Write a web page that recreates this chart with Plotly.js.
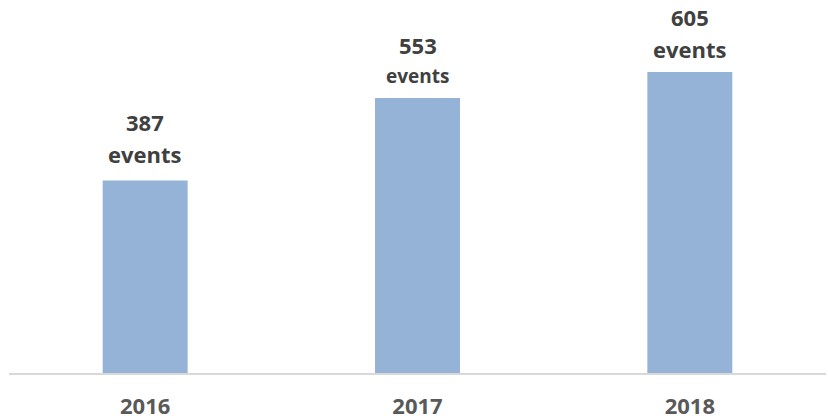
<!DOCTYPE html>
<html><head><meta charset="utf-8">
<script src="https://cdn.plot.ly/plotly-3.0.1.min.js"></script>
<style>html,body{margin:0;padding:0;background:#fff}#c{width:828px;height:420px}</style>
</head><body><div id="c"></div>
<script>
const years = ['2016', '2017', '2018'];
const events = [387, 553, 605];
const unitLabel = 'events';

// label styling per bar (the 2017 label is drawn slightly smaller in the original)
const numStyle = [{size: 22, shift: 59}, {size: 22, shift: 53}, {size: 22, shift: 55}];
const unitStyle = [{size: 22, shift: 27}, {size: 19, shift: 22}, {size: 22, shift: 23}];

const annotations = [];
years.forEach((y, i) => {
  annotations.push({
    x: i, y: events[i], xref: 'x', yref: 'y', yanchor: 'middle', yshift: numStyle[i].shift,
    showarrow: false, text: String(events[i]),
    font: {family: 'Open Sans', size: numStyle[i].size, color: '#404040', weight: 'bold'}
  });
  annotations.push({
    x: i, y: events[i], xref: 'x', yref: 'y', yanchor: 'middle', yshift: unitStyle[i].shift,
    showarrow: false, text: unitLabel,
    font: {family: 'Open Sans', size: unitStyle[i].size, color: '#404040', weight: 'bold'}
  });
});

Plotly.newPlot('c', [{
  type: 'bar', x: years, y: events,
  marker: {color: '#95B3D7'}, hoverinfo: 'none'
}], {
  width: 828, height: 420,
  margin: {l: 9, r: 2, t: 0, b: 47},
  bargap: 0.688,
  paper_bgcolor: '#fff', plot_bgcolor: '#fff',
  xaxis: {type: 'category', range: [-0.5, 2.5], autorange: false,
    showline: true, linecolor: '#D9D9D9', linewidth: 2,
    ticks: '', showgrid: false, zeroline: false, ticklabelstandoff: 13,
    tickfont: {family: 'Open Sans', size: 22, color: '#595959', weight: 'bold'}},
  yaxis: {range: [0, 750], autorange: false, visible: false, showgrid: false, zeroline: false},
  annotations: annotations,
  showlegend: false
}, {displayModeBar: false, staticPlot: true});
</script></body></html>
